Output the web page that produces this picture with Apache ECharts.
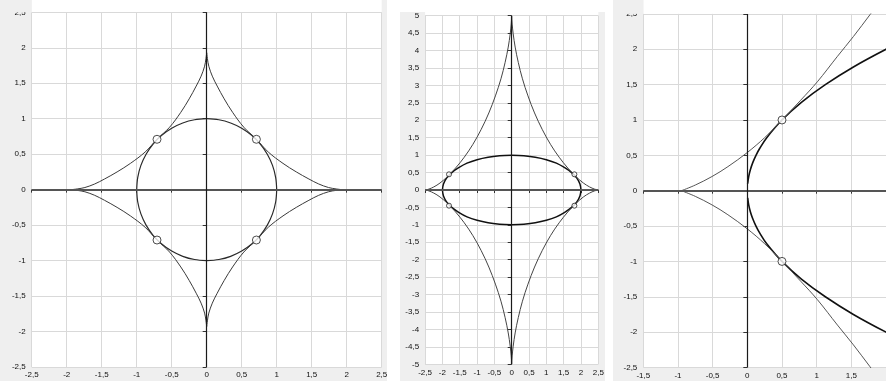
<!DOCTYPE html>
<html><head><meta charset="utf-8">
<script src="https://cdn.jsdelivr.net/npm/echarts@6/dist/echarts.min.js"></script>
<style>html,body{margin:0;padding:0;background:#fff}#c{width:886px;height:381px}</style>
</head><body><div id="c"></div><script>
// Quarter arcs are listed from the top point down to the right point (x >= 0, y >= 0);
// the other three quarters are their mirror images.

// Panel 1: unit circle and the four-cusped curve touching it
const circleQ = [[0,1],[0.174,0.985],[0.342,0.94],[0.5,0.866],[0.643,0.766],[0.766,0.643],[0.866,0.5],[0.94,0.342],[0.985,0.174],[1,0]];
const cuspQ1 = [[0,1.93],[0.01,1.85],[0.03,1.74],[0.08,1.6],[0.15,1.46],[0.25,1.28],[0.37,1.09],[0.53,0.88],[0.71,0.71],[0.88,0.53],[1.09,0.37],[1.28,0.25],[1.46,0.15],[1.6,0.08],[1.74,0.03],[1.85,0.01],[1.93,0]];
const touch1 = [0.71, 0.71];

// Panel 2: ellipse and the stretched four-cusped curve
const ellipseQ = [[0,1],[0.35,0.98],[0.68,0.94],[1,0.87],[1.29,0.77],[1.53,0.64],[1.73,0.5],[1.88,0.34],[1.97,0.17],[2,0]];
const cuspQ2 = [[0,5],[0.002,4.93],[0.013,4.76],[0.043,4.48],[0.1,4.1],[0.19,3.66],[0.31,3.19],[0.47,2.7],[0.66,2.21],[0.88,1.74],[1.12,1.31],[1.37,0.94],[1.62,0.63],[1.86,0.38],[2.07,0.2],[2.25,0.087],[2.39,0.026],[2.47,0.003],[2.5,0]];
const touch2 = [1.81, 0.45];

// Panel 3: parabola and the curve with a cusp at the left
const parabolaUp = [[0.005,0.1],[0.02,0.2],[0.045,0.3],[0.08,0.4],[0.125,0.5],[0.18,0.6],[0.28,0.75],[0.5,1],[0.78,1.25],[1.125,1.5],[1.53,1.75],[2,2],[2.42,2.2]];
const cuspUp3 = [[-0.95,0],[-0.75,0.08],[-0.51,0.2],[-0.28,0.34],[0,0.54],[0.25,0.75],[0.5,1],[0.77,1.28],[1.01,1.54],[1.3,1.9],[1.53,2.18],[1.77,2.49],[1.9,2.66]];
const touch3 = [0.5, 1];

// Axis ranges and tick step
const xRange = [[-2.5, 2.5], [-2.5, 2.5], [-1.5, 2]];
const yRange = [[-2.5, 2.5], [-5, 5], [-2.5, 2.5]];
const tickStep = 0.5;

const quarters = q => [
  q,
  q.slice().reverse().map(([x, y]) => [x, -y]),
  q.map(([x, y]) => [-x, -y]),
  q.slice().reverse().map(([x, y]) => [-x, y])
];
const mirrorY = pts => pts.map(([x, y]) => [x, -y]);
const mirror4 = ([x, y]) => [[x, y], [-x, y], [-x, -y], [x, -y]];

const BAND = '#efefef', GRID = '#d9d9d9', TXT = '#111';
const FONT = 'Liberation Sans, Arial, sans-serif';
const fmt = v => String(v).replace('.', ',');

const grids = [
  { left: 31.7, top: 12.3, width: 350, height: 354.7 },
  { left: 425.1, top: 15.7, width: 173.2, height: 348.6 },
  { left: 643.3, top: 13.9, width: 245, height: 353.6 }
];

const xAxes = grids.map((g, i) => ({
  type: 'value', gridIndex: i, min: xRange[i][0], max: xRange[i][1], interval: tickStep,
  position: 'bottom',
  axisLine: { show: false },
  axisTick: { show: true, length: 3, lineStyle: { color: '#333', width: 1 } },
  axisLabel: { color: TXT, fontSize: 8, fontFamily: FONT, margin: 4, formatter: fmt, showMinLabel: true, showMaxLabel: i !== 2 },
  splitLine: { show: true, lineStyle: { color: GRID, width: 1 } }
}));
const yAxes = grids.map((g, i) => ({
  type: 'value', gridIndex: i, min: yRange[i][0], max: yRange[i][1], interval: tickStep,
  position: 'left',
  axisLine: { show: false },
  axisTick: { show: true, length: 4, lineStyle: { color: '#333', width: 1 } },
  axisLabel: { color: TXT, fontSize: 8, fontFamily: FONT, margin: 6, formatter: fmt, showMinLabel: true, showMaxLabel: true },
  splitLine: { show: true, lineStyle: { color: GRID, width: 1 } }
}));

const series = [];
function curve(i, data, color, width) {
  series.push({
    type: 'line', xAxisIndex: i, yAxisIndex: i, data, showSymbol: false, symbol: 'none',
    smooth: 0.35, lineStyle: { color, width }, z: 3, silent: true
  });
}
function points(i, data, size) {
  series.push({
    type: 'scatter', xAxisIndex: i, yAxisIndex: i, data, symbol: 'circle', symbolSize: size,
    itemStyle: { color: '#fff', borderColor: '#222', borderWidth: 1 }, z: 5, silent: true
  });
}
function zeroLines(i) {
  series.push({
    type: 'line', xAxisIndex: i, yAxisIndex: i, data: [], silent: true,
    markLine: {
      silent: true, symbol: ['none', 'none'], label: { show: false }, animation: false,
      data: [
        { yAxis: 0, lineStyle: { color: '#555', width: 2, type: 'solid' } },
        { xAxis: 0, lineStyle: { color: '#1a1a1a', width: 1.2, type: 'solid' } }
      ]
    }
  });
}

// Panel 1
zeroLines(0);
quarters(circleQ).forEach(a => curve(0, a, '#2a2a2a', 1.2));
quarters(cuspQ1).forEach(a => curve(0, a, '#3a3a3a', 1));
points(0, mirror4(touch1), 8);

// Panel 2
zeroLines(1);
quarters(ellipseQ).forEach(a => curve(1, a, '#111', 1.5));
quarters(cuspQ2).forEach(a => curve(1, a, '#444', 1));
points(1, mirror4(touch2), 5);

// Panel 3
zeroLines(2);
curve(2, parabolaUp, '#111', 1.6);
curve(2, mirrorY(parabolaUp), '#111', 1.6);
curve(2, cuspUp3, '#555', 1);
curve(2, mirrorY(cuspUp3), '#555', 1);
points(2, [touch3, [touch3[0], -touch3[1]]], 8);

const rect = (x, y, w, h, fill, z) => ({ type: 'rect', shape: { x, y, width: w, height: h }, style: { fill }, z, silent: true });

const chart = echarts.init(document.getElementById('c'), null, { renderer: 'canvas' });
chart.setOption({
  animation: false,
  backgroundColor: '#fff',
  grid: grids,
  xAxis: xAxes,
  yAxis: yAxes,
  series,
  graphic: { elements: [
    // label bands
    rect(0, 0, 31.7, 381, BAND, -10),
    rect(0, 367, 387, 14, BAND, -10),
    rect(381.7, 0, 5.3, 381, BAND, -10),
    rect(400, 12, 25.1, 369, BAND, -10),
    rect(400, 364.3, 205, 16.7, BAND, -10),
    rect(598.3, 12, 6.7, 369, BAND, -10),
    rect(613, 0, 30.3, 381, BAND, -10),
    rect(613, 367.5, 273, 13.5, BAND, -10),
    // trimmed panel edges
    rect(0, 0, 31.7, 12.3, BAND, 100),
    rect(613, 0, 30.3, 13.9, BAND, 100),
    rect(387, 330, 13, 51, '#fff', 100)
  ] }
});
</script></body></html>
